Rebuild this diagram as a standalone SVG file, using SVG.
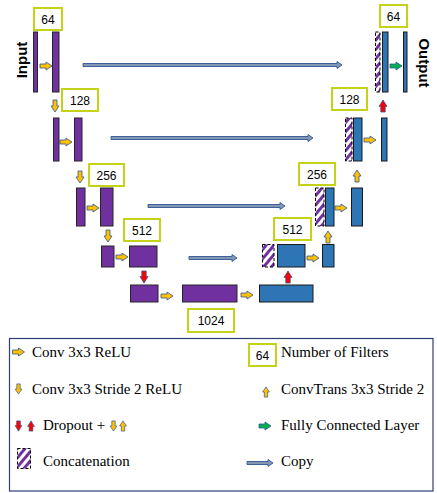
<svg xmlns="http://www.w3.org/2000/svg" xmlns:xlink="http://www.w3.org/1999/xlink" width="437" height="493" viewBox="0 0 437 493">
<style>
.p{fill:#7030A0;stroke:#262626;stroke-width:1}
.b{fill:#2E75B6;stroke:#1a1a1a;stroke-width:1}
.h{fill:url(#hatch);stroke:#000;stroke-width:1;stroke-dasharray:3 2}
.f{fill:#fff;stroke:#C4D318;stroke-width:2}
.ft{font-family:"Liberation Sans",Arial,sans-serif;font-size:12px;fill:#000;text-anchor:middle}
.lt{font-family:"Liberation Serif","Times New Roman",serif;font-size:15px;fill:#000}
.io{font-family:"Liberation Sans",Arial,sans-serif;font-size:15px;font-weight:bold;fill:#000;text-anchor:middle}
.y{fill:#FFC000;stroke:#2F5597;stroke-width:0.8}
.r{fill:#FF0000;stroke:#2F5597;stroke-width:0.8}
.g{fill:#00B050;stroke:#2F5597;stroke-width:0.8}
.c{fill:#8497B0;stroke:#2F5597;stroke-width:0.9}
</style>
<defs>
<pattern id="hatch" patternUnits="userSpaceOnUse" width="6" height="6" patternTransform="rotate(40)">
<rect width="6" height="6" fill="#fff"/>
<rect width="3" height="6" fill="#7030A0"/>
</pattern>
<path id="a" d="M-6,-2 L0,-2 L0,-4 L6,0 L0,4 L0,2 L-6,2 Z"/>
<path id="ar" d="M-6,-2.2 L-0.5,-2.2 L-0.5,-4 L6,0 L-0.5,4 L-0.5,2.2 L-6,2.2 Z"/>
</defs>
<rect width="437" height="493" fill="#fff"/>

<g id="connectors">
<path class="c" d="M83,63.5 H337 V61.5 L342,65 L337,68.5 V66.5 H83 Z"/>
<path class="c" d="M111,136.5 H308 V134.5 L313,138 L308,141.5 V139.5 H111 Z"/>
<path class="c" d="M148,204.5 H280 V202.5 L285,206 L280,209.5 V207.5 H148 Z"/>
<path class="c" d="M189,256.5 H232 V254.5 L237,258 L232,261.5 V259.5 H189 Z"/>
<use xlink:href="#a" class="y" transform="translate(46,66)"/>
<use xlink:href="#a" class="y" transform="translate(55,106) rotate(90)"/>
<use xlink:href="#a" class="y" transform="translate(66,142)"/>
<use xlink:href="#a" class="y" transform="translate(80,177) rotate(90)"/>
<use xlink:href="#a" class="y" transform="translate(93,208)"/>
<use xlink:href="#a" class="y" transform="translate(108,236) rotate(90)"/>
<use xlink:href="#a" class="y" transform="translate(122,257)"/>
<use xlink:href="#ar" class="r" transform="translate(144,277) rotate(90)"/>
<use xlink:href="#a" class="y" transform="translate(167,296)"/>
<use xlink:href="#a" class="y" transform="translate(247,295)"/>
<use xlink:href="#ar" class="r" transform="translate(288,277) rotate(-90)"/>
<use xlink:href="#a" class="y" transform="translate(313,258)"/>
<use xlink:href="#a" class="y" transform="translate(328,237) rotate(-90)"/>
<use xlink:href="#a" class="y" transform="translate(341,208)"/>
<use xlink:href="#a" class="y" transform="translate(357,176) rotate(-90)"/>
<use xlink:href="#a" class="y" transform="translate(370,140)"/>
<use xlink:href="#ar" class="r" transform="translate(383,106) rotate(-90)"/>
<use xlink:href="#a" class="g" transform="translate(396,66)"/>
</g>

<g id="enc1">
<rect class="p" x="33.5" y="32" width="4" height="60"/>
<rect class="p" x="52.5" y="32" width="6.5" height="60"/>
<rect class="f" x="34" y="8" width="28" height="22"/>
<text class="ft" x="48" y="23.5">64</text>
<text class="io" transform="translate(27,60) rotate(-90)">Input</text>
</g>
<g id="enc2">
<rect class="p" x="53.5" y="118" width="5.5" height="43"/>
<rect class="p" x="74.5" y="118" width="7.5" height="43"/>
<rect class="f" x="62" y="89" width="36" height="22"/>
<text class="ft" x="80" y="104.5">128</text>
</g>
<g id="enc3">
<rect class="p" x="76.5" y="188" width="8.5" height="38"/>
<rect class="p" x="100.5" y="188" width="12.5" height="38"/>
<rect class="f" x="89" y="164" width="35" height="22"/>
<text class="ft" x="106.5" y="179.5">256</text>
</g>
<g id="enc4">
<rect class="p" x="101.5" y="246" width="12.5" height="21"/>
<rect class="p" x="129.5" y="246" width="27.5" height="21"/>
<rect class="f" x="124" y="219" width="36" height="22"/>
<text class="ft" x="142" y="234.5">512</text>
</g>
<g id="bottleneck">
<rect class="p" x="130.5" y="285" width="27.5" height="17"/>
<rect class="p" x="182.5" y="285" width="54.5" height="17"/>
<rect class="f" x="188" y="309" width="46" height="23"/>
<text class="ft" x="211" y="325">1024</text>
<rect class="b" x="259.5" y="285" width="53.5" height="17"/>
</g>
<g id="dec4">
<rect class="h" x="262.5" y="244.5" width="11.5" height="22.5"/>
<rect class="b" x="277.5" y="244.5" width="27.5" height="22.5"/>
<rect class="b" x="322.5" y="244.5" width="11.5" height="22.5"/>
<rect class="f" x="274" y="218" width="37" height="22"/>
<text class="ft" x="292.5" y="233.5">512</text>
</g>
<g id="dec3">
<rect class="h" x="315.5" y="188" width="8.5" height="38"/>
<rect class="b" x="325.5" y="188" width="8.5" height="38"/>
<rect class="b" x="351.5" y="188" width="11" height="38"/>
<rect class="f" x="299" y="163" width="36" height="22"/>
<text class="ft" x="317" y="178.5">256</text>
</g>
<g id="dec2">
<rect class="h" x="345.5" y="118" width="6.5" height="43"/>
<rect class="b" x="353.5" y="118" width="8.5" height="43"/>
<rect class="b" x="381.5" y="118" width="5.5" height="43"/>
<rect class="f" x="332" y="88" width="35" height="22"/>
<text class="ft" x="349.5" y="103.5">128</text>
</g>
<g id="dec1">
<rect class="h" x="375.5" y="32" width="4.5" height="60"/>
<rect class="b" x="382.5" y="32" width="5.5" height="60"/>
<rect class="b" x="403.5" y="32" width="3.5" height="60"/>
<rect class="f" x="380" y="5" width="27" height="22"/>
<text class="ft" x="393.5" y="20.5">64</text>
<text class="io" transform="translate(419,63) rotate(90)">Output</text>
</g>

<g id="legend">
<rect x="9.5" y="338.5" width="423.5" height="152.5" fill="#fff" stroke="#2F3F6F" stroke-width="1.2"/>
<use xlink:href="#a" class="y" transform="translate(18.5,352)"/>
<text class="lt" x="32" y="357">Conv 3x3 ReLU</text>
<use xlink:href="#a" class="y" transform="translate(18.5,389) scale(0.85) rotate(90)"/>
<text class="lt" x="32" y="394">Conv 3x3 Stride 2 ReLU</text>
<use xlink:href="#ar" class="r" transform="translate(18.5,426) scale(0.85) rotate(90)"/>
<use xlink:href="#ar" class="r" transform="translate(31,426) scale(0.85) rotate(-90)"/>
<text class="lt" x="43" y="430">Dropout +</text>
<use xlink:href="#a" class="y" transform="translate(113.5,426) scale(0.85) rotate(90)"/>
<use xlink:href="#a" class="y" transform="translate(123,426) scale(0.85) rotate(-90)"/>
<rect class="h" x="17.5" y="448.5" width="13" height="20"/>
<text class="lt" x="43" y="466">Concatenation</text>
<rect class="f" x="249" y="344" width="27" height="22"/>
<text class="ft" x="262.5" y="359.5">64</text>
<text class="lt" x="281" y="357">Number of Filters</text>
<use xlink:href="#a" class="y" transform="translate(266,392) scale(0.85) rotate(-90)"/>
<text class="lt" x="281" y="394">ConvTrans 3x3 Stride 2</text>
<use xlink:href="#a" class="g" transform="translate(265,426)"/>
<text class="lt" x="281" y="430">Fully Connected Layer</text>
<path class="c" d="M247,461.5 H268 V459.5 L273,463 L268,466.5 V464.5 H247 Z"/>
<text class="lt" x="281" y="466">Copy</text>
</g>
</svg>
